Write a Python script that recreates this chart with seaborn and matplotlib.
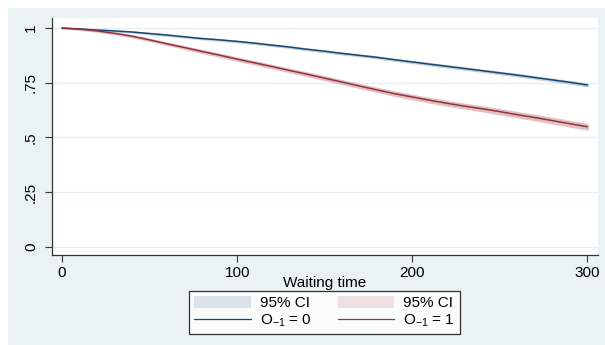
import matplotlib
matplotlib.use("Agg")
import matplotlib.pyplot as plt
import seaborn as sns
import pandas as pd
import numpy as np
from matplotlib.patches import Patch
from matplotlib.lines import Line2D

# ---- data ----
time = [0, 10, 20, 30, 40, 50, 60, 70, 80, 90, 100, 110, 120, 130, 140, 150,
        160, 170, 180, 190, 200, 210, 220, 230, 240, 250, 260, 270, 280, 290, 300]
surv_0 = [1.0, 0.996, 0.991, 0.987, 0.982, 0.975, 0.968, 0.960, 0.952, 0.946,
          0.939, 0.931, 0.922, 0.913, 0.903, 0.894, 0.884, 0.875, 0.866, 0.855,
          0.845, 0.835, 0.825, 0.815, 0.805, 0.795, 0.785, 0.774, 0.763, 0.752,
          0.740]
surv_1 = [1.0, 0.995, 0.987, 0.976, 0.963, 0.946, 0.928, 0.911, 0.893, 0.876,
          0.858, 0.841, 0.824, 0.806, 0.789, 0.771, 0.753, 0.735, 0.717, 0.700,
          0.685, 0.670, 0.656, 0.643, 0.631, 0.618, 0.604, 0.591, 0.577, 0.563,
          0.549]
ci_half_0 = [0.0, 0.0007, 0.001, 0.0013, 0.0015, 0.0018, 0.002, 0.0021, 0.0022,
             0.0024, 0.0025, 0.0027, 0.0028, 0.0029, 0.003, 0.0031, 0.0032,
             0.0034, 0.0035, 0.0036, 0.0037, 0.0039, 0.004, 0.0041, 0.0042,
             0.0044, 0.0045, 0.0046, 0.0047, 0.0049, 0.005]
ci_half_1 = [0.0, 0.0015, 0.0025, 0.003, 0.0035, 0.004, 0.0045, 0.005, 0.0055,
             0.0058, 0.006, 0.0063, 0.0066, 0.0069, 0.0072, 0.0075, 0.0078,
             0.0081, 0.0084, 0.0087, 0.009, 0.0093, 0.0096, 0.0099, 0.0102,
             0.0105, 0.0108, 0.0111, 0.0114, 0.0117, 0.012]
groups = ["O0", "O1"]
line_labels = [r"O$_{\mathregular{-1}}$ = 0", r"O$_{\mathregular{-1}}$ = 1"]
ci_label = "95% CI"
y_ticks = [0, 0.25, 0.5, 0.75, 1]
y_ticklabels = ["0", ".25", ".5", ".75", "1"]
x_ticks = [0, 100, 200, 300]
x_label = "Waiting time"

# ---- style ----
sns.set_style("white")
plt.rcParams["font.family"] = ["Liberation Sans", "DejaVu Sans"]
plt.rcParams["mathtext.fontset"] = "custom"
plt.rcParams["mathtext.rm"] = "Liberation Sans"
plt.rcParams["mathtext.it"] = "Liberation Sans:italic"
plt.rcParams["text.color"] = "black"
plt.rcParams["axes.labelcolor"] = "black"
plt.rcParams["xtick.color"] = "black"
plt.rcParams["ytick.color"] = "black"

FS = 11
line_colors = {"O0": "#1a476f", "O1": "#90353b"}
band_colors = {"O0": "#c3d1de", "O1": "#e3bfc3"}
legend_band = {"O0": "#dae2ea", "O1": "#eedfe1"}
bg = "#eaf2f3"

df = pd.DataFrame({
    "time": time * 2,
    "surv": surv_0 + surv_1,
    "group": [groups[0]] * len(time) + [groups[1]] * len(time),
})

fig = plt.figure(figsize=(6.05, 3.45), dpi=100, facecolor="white")
bg_ax = fig.add_axes([8 / 605, 0, 1 - 8 / 605, 1 - 8 / 345], zorder=-10)
bg_ax.set_facecolor(bg)
bg_ax.set_xticks([]); bg_ax.set_yticks([])
for sp in bg_ax.spines.values():
    sp.set_visible(False)

ax = fig.add_axes([52 / 605, 1 - 255 / 345, (598 - 52) / 605, (255 - 18) / 345])
ax.set_facecolor("white")

# CI bands
for g, s, h in [("O0", surv_0, ci_half_0), ("O1", surv_1, ci_half_1)]:
    s = np.array(s); h = np.array(h)
    ax.fill_between(time, s - h, s + h, color=band_colors[g], lw=1.2,
                    edgecolor=band_colors[g], zorder=2)

sns.lineplot(data=df, x="time", y="surv", hue="group", palette=line_colors,
             ax=ax, legend=False, linewidth=1.1, zorder=3)

ax.set_xlim(-5.7, 306)
ax.set_ylim(-0.037, 1.046)
ax.set_yticks(y_ticks)
ax.set_yticklabels(y_ticklabels, rotation=90, va="center")
ax.set_xticks(x_ticks)
ax.set_xticklabels([str(t) for t in x_ticks])
ax.set_xlabel(x_label, fontsize=FS, labelpad=-3)
ax.set_ylabel("")
ax.tick_params(axis="both", labelsize=FS, length=5, width=0.8, color="#333333",
               direction="out", left=True, bottom=True, pad=3)
ax.tick_params(axis="y", pad=5)
for y in y_ticks:
    ax.axhline(y, color="#e5eef0", lw=0.9, zorder=1)
for sp in ["top", "right"]:
    ax.spines[sp].set_visible(False)
for sp in ["left", "bottom"]:
    ax.spines[sp].set_color("#333333")
    ax.spines[sp].set_linewidth(0.9)

handles = [
    Patch(facecolor=legend_band["O0"], edgecolor="none"),
    Line2D([], [], color=line_colors["O0"], lw=0.9),
    Patch(facecolor=legend_band["O1"], edgecolor="none"),
    Line2D([], [], color=line_colors["O1"], lw=0.9),
]
labels = [ci_label, line_labels[0], ci_label, line_labels[1]]
leg = fig.legend(handles, labels, ncol=2, loc="center",
                 bbox_to_anchor=(324.5 / 605, 1 - 312.5 / 345),
                 fontsize=FS, frameon=True, fancybox=False, handlelength=3.7,
                 handleheight=0.8, handletextpad=0.6, columnspacing=1.7,
                 labelspacing=0.15, borderpad=0.3)
leg.get_frame().set_edgecolor("black")
leg.get_frame().set_linewidth(0.9)
leg.get_frame().set_facecolor("white")

fig.savefig("out.png", dpi=100, facecolor="white")
